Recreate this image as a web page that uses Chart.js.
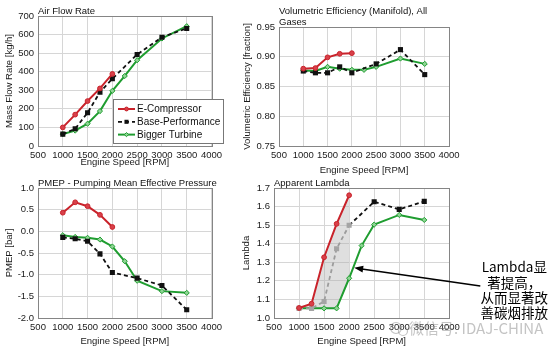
<!DOCTYPE html>
<html>
<head>
<meta charset="utf-8">
<script src="https://cdn.jsdelivr.net/npm/chart.js@4.4.0/dist/chart.umd.min.js"></script>
<style>
  html, body { margin: 0; padding: 0; background: #fff; }
  #wrap { position: relative; width: 554px; height: 351px; }
  #wrap canvas { position: absolute; left: 0; top: 0; }
</style>
</head>
<body>
<div id="wrap">
  <canvas id="cAir" width="554" height="351"></canvas>
  <canvas id="cVe" width="554" height="351"></canvas>
  <canvas id="cPmep" width="554" height="351"></canvas>
  <canvas id="cLambda" width="554" height="351"></canvas>
</div>
<script>
// régimen (rpm) de cada serie
const rpmEComp = [1000, 1250, 1500, 1750, 2000];
const rpmBase = [1000, 1250, 1500, 1750, 2000, 2500, 3000, 3500];
const rpmTurbo = [1000, 1250, 1500, 1750, 2000, 2250, 2500, 3000, 3500];
const rpmTicks = [500, 1000, 1500, 2000, 2500, 3000, 3500, 4000];

// Air Flow Rate [kg/h]
const airEComp = [100, 169, 242, 310, 388];
const airBase = [64, 93, 179, 290, 362, 493, 586, 633];
const airTurbo = [64, 83, 120, 188, 297, 377, 462, 579, 645];
const airTicks = [0, 100, 200, 300, 400, 500, 600, 700];

// Volumetric Efficiency [fraction]
const veEComp = [0.880, 0.881, 0.899, 0.905, 0.906];
const veBase = [0.876, 0.873, 0.873, 0.883, 0.873, 0.888, 0.912, 0.870];
const veTurbo = [0.877, 0.876, 0.883, 0.880, 0.878, 0.878, 0.883, 0.897, 0.888];
const veTicks = [0.75, 0.80, 0.85, 0.90, 0.95];

// PMEP [bar]
const pmepEComp = [0.43, 0.67, 0.58, 0.38, 0.10];
const pmepBase = [-0.14, -0.17, -0.23, -0.52, -0.95, -1.08, -1.25, -1.81];
const pmepTurbo = [-0.09, -0.13, -0.15, -0.19, -0.35, -0.69, -1.14, -1.38, -1.42];
const pmepTicks = [-2.0, -1.5, -1.0, -0.5, 0.0, 0.5, 1.0];

// Apparent Lambda
const lamEComp = [1.054, 1.077, 1.327, 1.507, 1.661];
const lamBase = [1.052, 1.052, 1.089, 1.373, 1.499, 1.626, 1.585, 1.628];
const lamTurbo = [1.052, 1.052, 1.052, 1.052, 1.214, 1.39, 1.503, 1.555, 1.528];
const lamTicks = [1.0, 1.1, 1.2, 1.3, 1.4, 1.5, 1.6, 1.7];

const RED = '#c9232b';
const GREEN = '#1f9d30';
const BLACK = '#111';
const FONT = 'Arial, "Liberation Sans", sans-serif';

Chart.defaults.font.family = FONT;
Chart.defaults.font.size = 9.5;
Chart.defaults.color = '#1a1a1a';

const pts = (xs, ys) => xs.map((x, i) => ({ x: x, y: ys[i] }));

function series(xE, yE, xB, yB, xT, yT) {
  return [
    { label: 'E-Compressor', data: pts(xE, yE), borderColor: RED, borderWidth: 2,
      pointStyle: 'circle', pointRadius: 2.4, pointBackgroundColor: '#d8404a', pointBorderColor: RED, pointBorderWidth: 1 },
    { label: 'Base-Performance', data: pts(xB, yB), borderColor: BLACK, borderWidth: 1.8, borderDash: [4, 3],
      pointStyle: 'rect', pointRadius: 3.6, pointBackgroundColor: BLACK, pointBorderColor: BLACK, pointBorderWidth: 0 },
    { label: 'Bigger Turbine', data: pts(xT, yT), borderColor: GREEN, borderWidth: 2,
      pointStyle: 'rectRot', pointRadius: 2.6, pointBackgroundColor: '#8fd494', pointBorderColor: GREEN, pointBorderWidth: 1 }
  ];
}

// marco, título, leyenda y nota de cada panel
const decor = {
  id: 'decor',
  beforeDatasetsDraw(chart) {
    const { ctx, chartArea: a } = chart;
    ctx.save();
    ctx.strokeStyle = '#858585';
    ctx.lineWidth = 1;
    ctx.strokeRect(Math.round(a.left) + 0.5, Math.round(a.top) + 0.5,
      Math.round(a.right - a.left), Math.round(a.bottom - a.top));
    ctx.restore();
  },
  afterDraw(chart, args, opts) {
    const { ctx, chartArea: a } = chart;
    ctx.save();
    ctx.fillStyle = '#111';
    ctx.font = '9.5px ' + FONT;
    ctx.textBaseline = 'middle';
    const n = opts.title.length;
    opts.title.forEach((t, i) => {
      ctx.fillText(t, a.left + (opts.titleDx || 0), a.top - 5 - (n - 1 - i) * 11);
    });

    if (opts.legend) {
      const bx = a.left + 75, by = a.top + 83, bw = 110, bh = 44;
      ctx.fillStyle = '#fff';
      ctx.fillRect(bx, by, bw, bh);
      ctx.strokeStyle = '#777';
      ctx.lineWidth = 1;
      ctx.strokeRect(bx + 0.5, by + 0.5, bw, bh);
      ctx.font = '10px ' + FONT;
      chart.data.datasets.forEach((d, i) => {
        const y = by + 10 + i * 12.8;
        ctx.strokeStyle = d.borderColor;
        ctx.lineWidth = d.borderWidth;
        ctx.setLineDash(d.borderDash || []);
        ctx.beginPath();
        ctx.moveTo(bx + 5, y);
        ctx.lineTo(bx + 22, y);
        ctx.stroke();
        ctx.setLineDash([]);
        ctx.fillStyle = d.pointBackgroundColor;
        ctx.strokeStyle = d.pointBorderColor;
        ctx.lineWidth = d.pointBorderWidth;
        Chart.helpers.drawPoint(ctx, { pointStyle: d.pointStyle, radius: d.pointRadius * 0.8,
          rotation: 0, borderWidth: d.pointBorderWidth }, bx + 13.5, y);
        ctx.fillStyle = '#111';
        ctx.fillText(d.label, bx + 24, y + 0.5);
      });
    }

    if (opts.note) {
      const xs = chart.scales.x, ys = chart.scales.y;
      const tx = xs.getPixelForValue(2100), ty = ys.getPixelForValue(1.27);
      const sx = a.right + 31, sy = a.top + 98;
      const ang = Math.atan2(ty - sy, tx - sx);
      ctx.strokeStyle = '#000';
      ctx.lineWidth = 1.6;
      ctx.beginPath();
      ctx.moveTo(sx, sy);
      ctx.lineTo(tx - 6 * Math.cos(ang), ty - 6 * Math.sin(ang));
      ctx.stroke();
      ctx.fillStyle = '#000';
      ctx.beginPath();
      ctx.moveTo(tx, ty);
      ctx.lineTo(tx - 9 * Math.cos(ang) + 3.5 * Math.sin(ang), ty - 9 * Math.sin(ang) - 3.5 * Math.cos(ang));
      ctx.lineTo(tx - 9 * Math.cos(ang) - 3.5 * Math.sin(ang), ty - 9 * Math.sin(ang) + 3.5 * Math.cos(ang));
      ctx.closePath();
      ctx.fill();

      // marca de agua
      ctx.globalAlpha = 0.5;
      ctx.strokeStyle = '#888';
      ctx.lineWidth = 1.2;
      ctx.beginPath(); ctx.arc(a.left + 122, a.bottom + 10, 5.5, 0, Math.PI * 2); ctx.stroke();
      ctx.beginPath(); ctx.arc(a.left + 129, a.bottom + 13, 4.5, 0, Math.PI * 2); ctx.stroke();
      ctx.fillStyle = '#8a8a8a';
      ctx.font = '15px "Noto Sans CJK SC", sans-serif';
      ctx.textAlign = 'left';
      ctx.fillText('微信号: IDAJ-CHINA', a.left + 135, a.bottom + 10);
      ctx.globalAlpha = 1;

      ctx.fillStyle = '#000';
      ctx.font = '13.5px "Noto Sans CJK SC", sans-serif';
      ctx.textAlign = 'center';
      ['Lambda显', '著提高，', '从而显著改', '善碳烟排放'].forEach((t, i) => {
        ctx.fillText(t, a.right + 65, a.top + 79 + i * 15.4);
      });
    }
    ctx.restore();
  }
};

function panel(id, o) {
  return new Chart(document.getElementById(id), {
    type: 'line',
    data: { datasets: o.datasets },
    plugins: [decor],
    options: {
      responsive: false,
      animation: false,
      events: [],
      layout: { padding: o.pad },
      plugins: {
        legend: { display: false },
        tooltip: { enabled: false },
        filler: { drawTime: 'beforeDatasetsDraw' },
        decor: { title: o.title, legend: !!o.legend, note: !!o.note }
      },
      elements: { line: { tension: 0 } },
      scales: {
        x: {
          type: 'linear', min: 500, max: 4000,
          afterBuildTicks: s => { s.ticks = rpmTicks.map(v => ({ value: v })); },
          afterFit: s => { s.height = o.xh; },
          ticks: { padding: 4, maxRotation: 0, autoSkip: false, callback: v => String(v) },
          grid: { color: '#d6d6d6', drawTicks: false },
          border: { display: false },
          title: { display: true, text: 'Engine Speed [RPM]', font: { size: 9.5 }, padding: 0 }
        },
        y: {
          min: o.yTicks[0], max: o.yTicks[o.yTicks.length - 1],
          afterBuildTicks: s => { s.ticks = o.yTicks.map(v => ({ value: v })); },
          afterFit: s => { s.width = o.yw; },
          ticks: { padding: 4, callback: v => v.toFixed(o.dec) },
          grid: { color: '#d6d6d6', drawTicks: false },
          border: { display: false },
          title: { display: true, text: o.yTitle, font: { size: 9.5 }, padding: { top: o.yTitlePad, bottom: 0 } }
        }
      }
    }
  });
}

panel('cAir', {
  datasets: series(rpmEComp, airEComp, rpmBase, airBase, rpmTurbo, airTurbo),
  yTicks: airTicks, dec: 0, yTitle: 'Mass Flow Rate [kg/h]', yTitlePad: 4,
  title: ['Air Flow Rate'], legend: true,
  pad: { left: 0, top: 16, right: 342.5, bottom: 183 }, yw: 38, xh: 22
});

panel('cVe', {
  datasets: series(rpmEComp, veEComp, rpmBase, veBase, rpmTurbo, veTurbo),
  yTicks: veTicks, dec: 2, yTitle: 'Volumetric Efficiency [fraction]', yTitlePad: 0,
  title: ['Volumetric Efficiency (Manifold), All', 'Gases'],
  pad: { left: 242, top: 27, right: 105, bottom: 175 }, yw: 37, xh: 30
});

panel('cPmep', {
  datasets: series(rpmEComp, pmepEComp, rpmBase, pmepBase, rpmTurbo, pmepTurbo),
  yTicks: pmepTicks, dec: 1, yTitle: 'PMEP [bar]', yTitlePad: 4,
  title: ['PMEP - Pumping Mean Effective Pressure'],
  pad: { left: 0, top: 188, right: 342.5, bottom: 4.3 }, yw: 38, xh: 28.7
});

const lamSets = series(rpmEComp, lamEComp, rpmBase, lamBase, rpmTurbo, lamTurbo);
// zona sombreada entre E-Compressor y Bigger Turbine
lamSets[0].fill = { target: 2 };
lamSets[0].backgroundColor = 'rgba(175,175,175,0.4)';
// Base-Performance en gris dentro de la zona sombreada
lamSets[1].segment = { borderColor: c => c.p1.parsed.x <= 2000 ? '#9c9c9c' : BLACK };
lamSets[1].pointBackgroundColor = c => c.parsed && c.parsed.x <= 2000 ? '#a4a4a4' : BLACK;

panel('cLambda', {
  datasets: lamSets,
  yTicks: lamTicks, dec: 1, yTitle: 'Lambda', yTitlePad: 0,
  title: ['Apparent Lambda'], note: true,
  pad: { left: 241, top: 188, right: 104.7, bottom: 4.3 }, yw: 33, xh: 28.7
});
</script>
</body>
</html>
